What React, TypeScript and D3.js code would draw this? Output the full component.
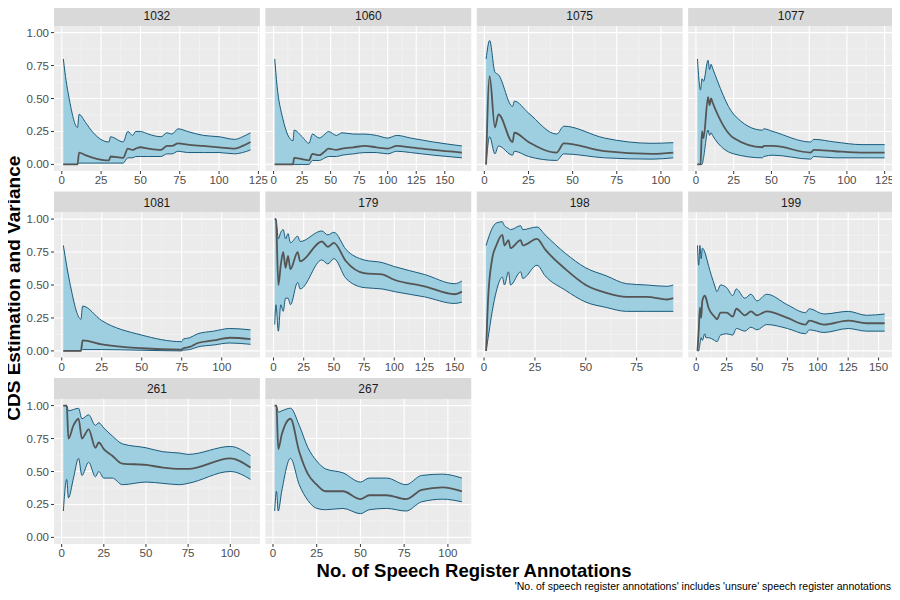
import * as d3 from "d3";

const panelIds = ["1032", "1060", "1075", "1077", "1081", "179", "198", "199", "261", "267"];

// per panel: annotation counts, lower bound, estimate, upper bound
const x1032 = [1, 2, 5, 10, 11, 15, 20, 30, 31, 39, 42, 45, 47, 50, 55, 63, 67, 70, 74, 80, 90, 100, 110, 115, 120];
const hi1032 = [0.8, 0.7, 0.48, 0.28, 0.38, 0.32, 0.24, 0.17, 0.21, 0.17, 0.25, 0.22, 0.25, 0.25, 0.23, 0.21, 0.24, 0.23, 0.27, 0.25, 0.22, 0.21, 0.19, 0.21, 0.24];
const m1032 = [0, 0, 0, 0, 0.09, 0.07, 0.05, 0.03, 0.06, 0.05, 0.12, 0.11, 0.12, 0.13, 0.12, 0.11, 0.14, 0.14, 0.16, 0.15, 0.14, 0.13, 0.12, 0.14, 0.17];
const lo1032 = [0, 0, 0, 0, 0.01, 0.01, 0.01, 0.01, 0.01, 0.01, 0.05, 0.05, 0.06, 0.06, 0.06, 0.06, 0.08, 0.08, 0.1, 0.09, 0.09, 0.09, 0.08, 0.09, 0.11];

const x1060 = [1, 3, 8, 17, 18, 25, 31, 34, 40, 45, 48, 55, 60, 70, 80, 90, 100, 108, 120, 140, 165];
const hi1060 = [0.8, 0.6, 0.35, 0.18, 0.26, 0.21, 0.16, 0.23, 0.2, 0.23, 0.25, 0.22, 0.24, 0.23, 0.23, 0.22, 0.2, 0.22, 0.2, 0.17, 0.14];
const m1060 = [0, 0, 0, 0, 0.05, 0.04, 0.03, 0.08, 0.07, 0.1, 0.12, 0.11, 0.12, 0.13, 0.14, 0.13, 0.12, 0.14, 0.13, 0.11, 0.09];
const lo1060 = [0, 0, 0, 0, 0, 0, 0, 0.03, 0.03, 0.05, 0.06, 0.06, 0.07, 0.08, 0.09, 0.09, 0.08, 0.1, 0.09, 0.07, 0.05];

const x1075 = [1, 3, 6, 8, 16, 17, 25, 41, 45, 68, 95, 107];
const hi1075 = [0.8, 0.94, 0.7, 0.68, 0.44, 0.48, 0.39, 0.23, 0.29, 0.2, 0.16, 0.165];
const m1075 = [0, 0.67, 0.28, 0.38, 0.17, 0.24, 0.17, 0.09, 0.16, 0.1, 0.08, 0.09];
const lo1075 = [0, 0.21, 0.08, 0.14, 0.07, 0.1, 0.06, 0.03, 0.08, 0.05, 0.04, 0.05];

const x1077 = [1, 3, 4, 5, 8, 9, 10, 11, 25, 44, 45, 51, 76, 78, 92, 110, 125];
const hi1077 = [0.8, 0.565, 0.65, 0.63, 0.79, 0.72, 0.76, 0.73, 0.38, 0.26, 0.27, 0.25, 0.17, 0.19, 0.17, 0.15, 0.15];
const m1077 = [0, 0, 0.25, 0.2, 0.51, 0.45, 0.5, 0.47, 0.2, 0.13, 0.14, 0.14, 0.09, 0.11, 0.1, 0.09, 0.09];
const lo1077 = [0, 0, 0, 0.05, 0.26, 0.22, 0.24, 0.22, 0.08, 0.05, 0.06, 0.07, 0.04, 0.06, 0.05, 0.05, 0.05];

const x1081 = [1, 5, 12, 13, 25, 50, 75, 76, 80, 85, 95, 105, 118];
const hi1081 = [0.8, 0.52, 0.24, 0.34, 0.23, 0.12, 0.07, 0.09, 0.1, 0.13, 0.15, 0.17, 0.16];
const m1081 = [0, 0, 0, 0.08, 0.05, 0.02, 0.01, 0.02, 0.03, 0.06, 0.08, 0.1, 0.09];
const lo1081 = [0, 0, 0, 0.01, 0.01, 0.005, 0, 0.005, 0.01, 0.03, 0.045, 0.06, 0.05];

const x179 = [1, 2, 4, 6, 8, 10, 12, 14, 20, 22, 40, 45, 50, 60, 75, 90, 100, 125, 150, 156];
const hi179 = [1, 1, 0.85, 0.9, 0.92, 0.85, 0.89, 0.82, 0.87, 0.83, 0.91, 0.88, 0.9, 0.77, 0.69, 0.67, 0.64, 0.58, 0.51, 0.53];
const m179 = [1, 1, 0.5, 0.65, 0.75, 0.63, 0.72, 0.62, 0.75, 0.68, 0.83, 0.79, 0.82, 0.68, 0.59, 0.58, 0.54, 0.49, 0.43, 0.45];
const lo179 = [0.2, 0.35, 0.15, 0.35, 0.3, 0.4, 0.4, 0.35, 0.52, 0.47, 0.69, 0.66, 0.7, 0.55, 0.48, 0.47, 0.45, 0.41, 0.36, 0.37];

const x198 = [1, 2, 4, 6, 9, 10, 12, 13, 18, 19, 26, 30, 40, 50, 60, 70, 80, 90, 93];
const hi198 = [0.8, 0.85, 0.93, 0.97, 0.98, 0.95, 0.93, 0.92, 0.95, 0.92, 0.94, 0.88, 0.74, 0.63, 0.57, 0.51, 0.5, 0.49, 0.5];
const m198 = [0, 0.4, 0.7, 0.8, 0.88, 0.8, 0.84, 0.78, 0.84, 0.8, 0.85, 0.77, 0.62, 0.5, 0.44, 0.41, 0.41, 0.39, 0.4];
const lo198 = [0, 0.1, 0.3, 0.45, 0.56, 0.5, 0.6, 0.5, 0.6, 0.55, 0.65, 0.57, 0.46, 0.37, 0.33, 0.3, 0.3, 0.3, 0.3];

const x199 = [1, 2, 3, 4, 5, 7, 8, 10, 15, 17, 20, 25, 30, 33, 40, 45, 50, 58, 75, 90, 93, 105, 125, 140, 155];
const hi199 = [0.8, 0.65, 0.8, 0.7, 0.78, 0.75, 0.72, 0.65, 0.5, 0.45, 0.5, 0.48, 0.42, 0.47, 0.4, 0.43, 0.38, 0.43, 0.35, 0.29, 0.32, 0.28, 0.3, 0.27, 0.28];
const m199 = [0, 0.15, 0.33, 0.25, 0.38, 0.42, 0.4, 0.33, 0.26, 0.24, 0.29, 0.29, 0.26, 0.32, 0.27, 0.3, 0.27, 0.3, 0.25, 0.2, 0.23, 0.2, 0.23, 0.21, 0.21];
const lo199 = [0, 0, 0.05, 0.1, 0.08, 0.13, 0.1, 0.1, 0.08, 0.07, 0.12, 0.13, 0.12, 0.17, 0.15, 0.18, 0.16, 0.2, 0.17, 0.13, 0.16, 0.14, 0.17, 0.15, 0.15];

const x261 = [1, 3, 4, 7, 10, 12, 16, 20, 22, 25, 30, 36, 50, 60, 70, 75, 100, 112];
const hi261 = [1, 1, 0.96, 0.97, 0.98, 0.9, 0.93, 0.85, 0.87, 0.83, 0.77, 0.71, 0.68, 0.65, 0.64, 0.63, 0.69, 0.62];
const m261 = [1, 1, 0.75, 0.85, 0.9, 0.75, 0.82, 0.68, 0.72, 0.67, 0.62, 0.56, 0.55, 0.53, 0.52, 0.52, 0.6, 0.53];
const lo261 = [0.2, 0.44, 0.3, 0.45, 0.6, 0.47, 0.57, 0.46, 0.5, 0.45, 0.45, 0.4, 0.42, 0.41, 0.4, 0.41, 0.5, 0.44];

const x267 = [1, 2, 3, 5, 10, 15, 20, 25, 30, 40, 50, 55, 65, 76, 85, 97, 108];
const hi267 = [1, 1, 0.95, 0.96, 0.98, 0.85, 0.68, 0.58, 0.52, 0.49, 0.42, 0.45, 0.45, 0.4, 0.47, 0.48, 0.45];
const m267 = [1, 1, 0.67, 0.78, 0.9, 0.65, 0.48, 0.4, 0.35, 0.35, 0.29, 0.32, 0.32, 0.29, 0.36, 0.38, 0.35];
const lo267 = [0.2, 0.35, 0.2, 0.35, 0.6, 0.4, 0.28, 0.22, 0.21, 0.22, 0.18, 0.21, 0.22, 0.2, 0.27, 0.29, 0.27];

const seriesX = [x1032, x1060, x1075, x1077, x1081, x179, x198, x199, x261, x267];
const seriesHi = [hi1032, hi1060, hi1075, hi1077, hi1081, hi179, hi198, hi199, hi261, hi267];
const seriesMid = [m1032, m1060, m1075, m1077, m1081, m179, m198, m199, m261, m267];
const seriesLo = [lo1032, lo1060, lo1075, lo1077, lo1081, lo179, lo198, lo199, lo261, lo267];

const yTicks = [0, 0.25, 0.5, 0.75, 1];
const FONT = "'Liberation Sans', Arial, sans-serif";
const RIBBON = "#9dcfe0";
const EDGE = "#1b5b7d";

const W = 900, H = 600;
const left = 54, right = 894, gap = 5.5;
const pw = (right - left - 3 * gap) / 4;
const stripH = 21, ph = 145, rowPitch = 186.5, top0 = 5;

type Pt = { x: number; lo: number; m: number; hi: number };

function Panel({ idx }: { idx: number }) {
  const col = idx % 4, row = Math.floor(idx / 4);
  const px = left + col * (pw + gap);
  const sy = top0 + row * rowPitch;
  const py = sy + stripH;
  const xs = seriesX[idx];
  const pts: Pt[] = xs.map((x, i) => ({ x, lo: seriesLo[idx][i], m: seriesMid[idx][i], hi: seriesHi[idx][i] }));
  const xmax = d3.max(xs) as number, xmin = d3.min(xs) as number;
  const pad = (xmax - xmin) * 0.05;
  const x = d3.scaleLinear().domain([xmin - pad, xmax + pad]).range([0, pw]);
  const y = d3.scaleLinear().domain([-0.05, 1.05]).range([ph, 0]);
  const xt = d3.range(0, xmax + pad, 25);
  const xminor = d3.range(12.5, xmax + pad, 25);
  const yminor = [0.125, 0.375, 0.625, 0.875];
  const curve = d3.curveMonotoneX;
  const area = d3.area<Pt>().x((d) => x(d.x)).y0((d) => y(d.lo)).y1((d) => y(d.hi)).curve(curve);
  const lineHi = d3.line<Pt>().x((d) => x(d.x)).y((d) => y(d.hi)).curve(curve);
  const lineLo = d3.line<Pt>().x((d) => x(d.x)).y((d) => y(d.lo)).curve(curve);
  const lineM = d3.line<Pt>().x((d) => x(d.x)).y((d) => y(d.m)).curve(curve);
  const showY = col === 0;
  return (
    <g>
      <rect x={px} y={sy} width={pw} height={stripH} fill="#d9d9d9" />
      <text x={px + pw / 2} y={sy + 15} textAnchor="middle" fontSize={12} fill="#1a1a1a" fontFamily={FONT}>{panelIds[idx]}</text>
      <g transform={`translate(${px},${py})`}>
        <rect width={pw} height={ph} fill="#ebebeb" />
        {yminor.map((t) => <line key={"ym" + t} x1={0} x2={pw} y1={y(t)} y2={y(t)} stroke="#f5f5f5" strokeWidth={0.6} />)}
        {xminor.map((t) => <line key={"xm" + t} x1={x(t)} x2={x(t)} y1={0} y2={ph} stroke="#f5f5f5" strokeWidth={0.6} />)}
        {yTicks.map((t) => <line key={"y" + t} x1={0} x2={pw} y1={y(t)} y2={y(t)} stroke="#fff" strokeWidth={1.1} />)}
        {xt.map((t) => <line key={"x" + t} x1={x(t)} x2={x(t)} y1={0} y2={ph} stroke="#fff" strokeWidth={1.1} />)}
        <path d={area(pts) || ""} fill={RIBBON} />
        <path d={lineHi(pts) || ""} fill="none" stroke={EDGE} strokeWidth={1} />
        <path d={lineLo(pts) || ""} fill="none" stroke={EDGE} strokeWidth={1} />
        <path d={lineM(pts) || ""} fill="none" stroke="#555" strokeWidth={1.8} />
        {xt.map((t) => (
          <g key={"xl" + t}>
            <line x1={x(t)} x2={x(t)} y1={ph} y2={ph + 3} stroke="#333" />
            <text x={x(t)} y={ph + 13} textAnchor="middle" fontSize={11.5} fill="#4d4d4d" fontFamily={FONT}>{t}</text>
          </g>
        ))}
        {showY && yTicks.map((t) => (
          <g key={"yl" + t}>
            <line x1={-3} x2={0} y1={y(t)} y2={y(t)} stroke="#333" />
            <text x={-5} y={y(t) + 4} textAnchor="end" fontSize={11.5} fill="#4d4d4d" fontFamily={FONT}>{t.toFixed(2)}</text>
          </g>
        ))}
      </g>
    </g>
  );
}

export default function App() {
  return (
    <svg width={W} height={H} style={{ display: "block", margin: -8, background: "#fff" }}>
      <rect width={W} height={H} fill="#fff" />
      {panelIds.map((_, i) => <Panel key={i} idx={i} />)}
      <text transform={`translate(20,${(top0 + 3 * rowPitch) / 2 + 6}) rotate(-90)`} textAnchor="middle" fontSize={19} fontWeight="bold" fontFamily={FONT} fill="#000">CDS Estimation and Variance</text>
      <text x={(left + right) / 2} y={577} textAnchor="middle" fontSize={18.5} fontWeight="bold" fontFamily={FONT} fill="#000">No. of Speech Register Annotations</text>
      <text x={right} y={590} textAnchor="end" fontSize={10.5} fontFamily={FONT} fill="#000">'No. of speech register annotations' includes 'unsure' speech register annotations.</text>
    </svg>
  );
}
